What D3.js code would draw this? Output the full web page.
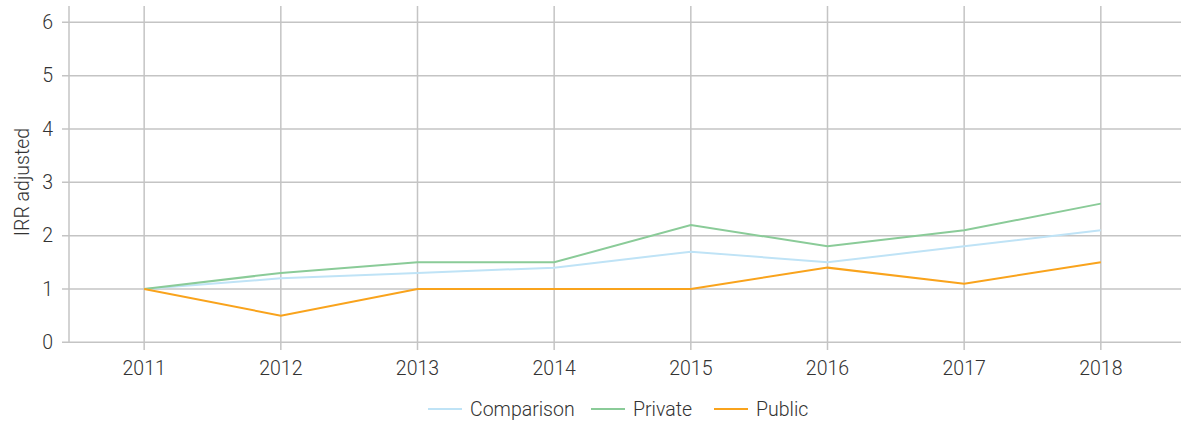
<!DOCTYPE html>
<html>
<head>
<meta charset="UTF-8" />
<title>IRR adjusted</title>
<style>
  html, body { margin: 0; padding: 0; background: #fff; }
  svg { display: block; font-family: Roboto, "Open Sans", sans-serif; }
  .grid line { stroke: #c4c4c4; stroke-width: 1.5px; }
  .lbl { fill: #333; font-size: 19.5px; font-weight: 300; }
</style>
<script src="https://d3js.org/d3.v7.min.js"></script>
</head>
<body>
<svg></svg>
<script>
const years = ['2011', '2012', '2013', '2014', '2015', '2016', '2017', '2018'];
const yTicks = [0, 1, 2, 3, 4, 5, 6];
const comparison = [1, 1.2, 1.3, 1.4, 1.7, 1.5, 1.8, 2.1];
const priv = [1, 1.3, 1.5, 1.5, 2.2, 1.8, 2.1, 2.6];
const pub = [1, 0.5, 1, 1, 1, 1.4, 1.1, 1.5];

const series = [
  { name: 'Comparison', values: comparison, color: '#bfe3f6' },
  { name: 'Private', values: priv, color: '#8acb98' },
  { name: 'Public', values: pub, color: '#f9a31c' }
];

const width = 1181, height = 423;
const svg = d3.select('svg').attr('width', width).attr('height', height);

const x = d3.scalePoint().domain(years).range([69, 1176]).padding(0.55);
const y = d3.scaleLinear().domain([0, 6]).range([342.3, 22.3]);

// horizontal grid
const grid = svg.append('g').attr('class', 'grid');
grid.selectAll('.h').data(yTicks).enter().append('line')
  .attr('x1', 62).attr('x2', width)
  .attr('y1', d => y(d)).attr('y2', d => y(d));
// vertical grid
grid.selectAll('.v').data(years).enter().append('line')
  .attr('x1', d => x(d)).attr('x2', d => x(d))
  .attr('y1', 6).attr('y2', 350);
// y axis line
grid.append('line').attr('x1', 69).attr('x2', 69).attr('y1', 6).attr('y2', 342.3);

// tick labels
svg.append('g').selectAll('text').data(yTicks).enter().append('text')
  .attr('class', 'lbl')
  .attr('x', 53).attr('y', d => y(d)).attr('dy', '0.35em')
  .attr('text-anchor', 'end')
  .text(d => d);

svg.append('g').selectAll('text').data(years).enter().append('text')
  .attr('class', 'lbl')
  .attr('x', d => x(d)).attr('y', 375)
  .attr('text-anchor', 'middle')
  .text(d => d);

svg.append('text').attr('class', 'lbl')
  .attr('transform', 'translate(29,182) rotate(-90)')
  .attr('text-anchor', 'middle')
  .text('IRR adjusted');

// lines
const line = d3.line().x((d, i) => x(years[i])).y(d => y(d));
svg.append('g').selectAll('path').data(series).enter().append('path')
  .attr('fill', 'none')
  .attr('stroke', d => d.color)
  .attr('stroke-width', 2)
  .attr('d', d => line(d.values));

// legend
const legendX = [428, 591, 714];
const leg = svg.append('g').selectAll('g').data(series).enter().append('g')
  .attr('transform', (d, i) => `translate(${legendX[i]},409)`);
leg.append('line').attr('x1', 0).attr('x2', 34).attr('y1', 0).attr('y2', 0)
  .attr('stroke', d => d.color).attr('stroke-width', 2);
leg.append('text').attr('class', 'lbl')
  .attr('x', 42).attr('dy', '0.35em')
  .text(d => d.name);
</script>
</body>
</html>
